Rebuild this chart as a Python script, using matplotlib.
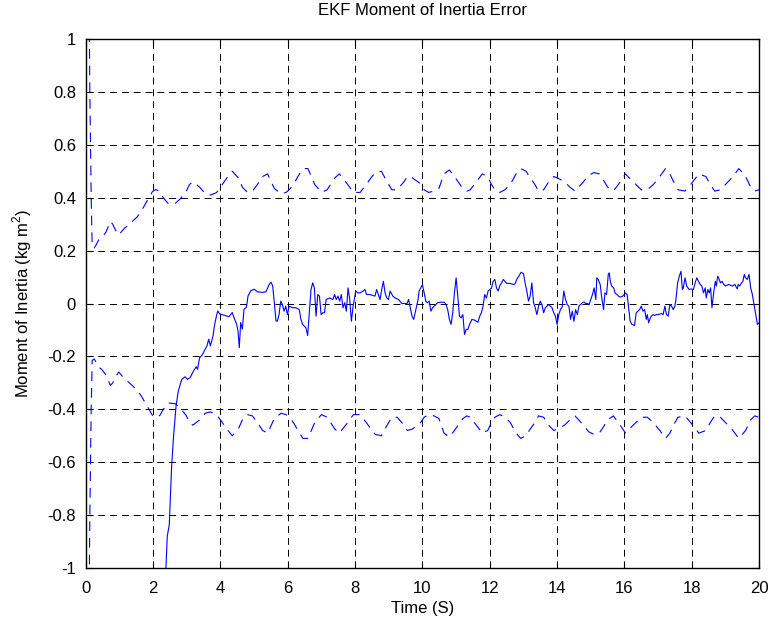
import numpy as np
import matplotlib
matplotlib.use("Agg")
import matplotlib.pyplot as plt
from matplotlib.ticker import FuncFormatter

plt.rcParams['font.family'] = ['Liberation Sans', 'DejaVu Sans']
plt.rcParams['mathtext.fontset'] = 'custom'
plt.rcParams['mathtext.rm'] = 'Liberation Sans'
plt.rcParams['axes.unicode_minus'] = False
plt.rcParams['lines.scale_dashes'] = False

# covariance bound (plotted as +/-)
bound_t = [0.0, 0.08, 0.12, 0.16, 0.19, 0.25, 0.3, 0.38, 0.48, 0.6, 0.73, 0.8, 0.88, 0.98,
           1.06, 1.15, 1.25, 1.38, 1.53, 1.65, 1.78, 1.98, 2.08, 2.2, 2.3, 2.46, 2.66, 2.8,
           2.98, 3.08, 3.18, 3.38, 3.55, 3.7, 3.88, 4.0, 4.18, 4.35, 4.53, 4.65, 4.8, 4.95,
           5.1, 5.25, 5.4, 5.6, 5.8, 5.95, 6.08, 6.19, 6.3, 6.45, 6.6, 6.8, 7.0, 7.17, 7.27,
           7.4, 7.53, 7.75, 7.95, 8.15, 8.36, 8.47, 8.6, 8.78, 8.95, 9.09, 9.25, 9.45, 9.55,
           9.7, 9.92, 10.05, 10.18, 10.35, 10.49, 10.64, 10.8, 10.95, 11.06, 11.2, 11.32,
           11.42, 11.6, 11.78, 11.94, 12.05, 12.15, 12.3, 12.45, 12.61, 12.78, 12.92, 13.08,
           13.2, 13.34, 13.45, 13.6, 13.75, 13.9, 14.01, 14.22, 14.38, 14.53, 14.75, 14.94,
           15.1, 15.25, 15.36, 15.5, 15.67, 15.85, 16.03, 16.18, 16.34, 16.5, 16.68, 16.86,
           17.05, 17.22, 17.35, 17.48, 17.59, 17.8, 18.0, 18.21, 18.42, 18.55, 18.68, 18.85,
           19.0, 19.19, 19.4, 19.6, 19.75, 19.87, 20.0]
bound_v = [4.0, 1.4, 0.8, 0.4, 0.215, 0.21, 0.22, 0.24, 0.25, 0.27, 0.31, 0.30, 0.278, 0.259,
           0.271, 0.285, 0.295, 0.31, 0.328, 0.35, 0.379, 0.423, 0.431, 0.423, 0.40, 0.376,
           0.379, 0.395, 0.423, 0.45, 0.46, 0.44, 0.415, 0.41, 0.419, 0.44, 0.473, 0.50, 0.475,
           0.44, 0.42, 0.425, 0.45, 0.48, 0.49, 0.435, 0.415, 0.42, 0.435, 0.455, 0.48, 0.51,
           0.51, 0.45, 0.42, 0.43, 0.45, 0.475, 0.49, 0.455, 0.42, 0.42, 0.455, 0.475, 0.495,
           0.50, 0.46, 0.43, 0.43, 0.46, 0.48, 0.475, 0.455, 0.43, 0.42, 0.425, 0.435, 0.49,
           0.505, 0.48, 0.46, 0.435, 0.425, 0.43, 0.46, 0.49, 0.48, 0.45, 0.43, 0.42, 0.43,
           0.45, 0.49, 0.51, 0.50, 0.475, 0.45, 0.425, 0.43, 0.46, 0.48, 0.475, 0.46, 0.44,
           0.425, 0.455, 0.485, 0.495, 0.49, 0.47, 0.44, 0.425, 0.455, 0.49, 0.47, 0.45, 0.43,
           0.43, 0.45, 0.48, 0.51, 0.49, 0.455, 0.43, 0.425, 0.455, 0.49, 0.48, 0.45, 0.425,
           0.43, 0.45, 0.475, 0.51, 0.48, 0.44, 0.425, 0.43]

# estimation error
err_t = [0.0, 2.3, 2.38, 2.42, 2.48, 2.55, 2.6, 2.68, 2.75, 2.85, 2.95, 3.02, 3.1, 3.2, 3.28,
         3.32, 3.38, 3.45, 3.52, 3.6, 3.65, 3.7, 3.78, 3.82, 3.88, 3.92, 3.98, 4.1, 4.25, 4.35,
         4.4, 4.48, 4.52, 4.56, 4.6, 4.65, 4.7, 4.77, 4.82, 4.9, 5.0, 5.1, 5.25, 5.35, 5.45,
         5.5, 5.55, 5.6, 5.65,
         5.69, 5.74, 5.79, 5.84, 5.89, 5.94, 5.99, 6.04, 6.14, 6.24, 6.34, 6.39, 6.44, 6.54,
         6.59, 6.64, 6.69, 6.74, 6.79, 6.84, 6.89, 6.94, 6.99, 7.04, 7.09, 7.14, 7.24, 7.34,
         7.39, 7.44, 7.49, 7.54, 7.59, 7.64, 7.69, 7.74, 7.79, 7.84, 7.89, 7.94, 8.02, 8.09,
         8.14, 8.24, 8.29, 8.34, 8.44, 8.54, 8.59, 8.64, 8.69, 8.74, 8.79, 8.84, 8.89, 8.94,
         8.99, 9.04, 9.12, 9.19, 9.29, 9.39, 9.49, 9.54, 9.59, 9.64, 9.69, 9.74,
         9.87, 9.90, 9.95, 10.0, 10.05, 10.10, 10.15, 10.20, 10.25, 10.30, 10.35, 10.45,
         10.55, 10.65, 10.70, 10.75, 10.80, 10.85, 10.90, 10.95, 11.00, 11.05, 11.10, 11.15,
         11.20, 11.25, 11.30, 11.35, 11.40, 11.47, 11.55, 11.65, 11.70, 11.75, 11.80, 11.85,
         11.90, 11.95, 12.00, 12.05, 12.10, 12.15, 12.20, 12.25, 12.30, 12.35, 12.40, 12.45,
         12.50, 12.60, 12.70, 12.75, 12.80, 12.85, 12.93, 13.00, 13.05, 13.10, 13.15, 13.20,
         13.25, 13.30, 13.35, 13.40, 13.45, 13.50, 13.55, 13.60, 13.65, 13.70, 13.75, 13.80,
         13.85, 13.90, 13.95, 14.00, 14.05, 14.10, 14.15, 14.20, 14.25, 14.30, 14.35, 14.40,
         14.45, 14.50, 14.55, 14.60, 14.65, 14.75, 14.80, 14.85, 14.90, 14.95,
         15.05, 15.10, 15.15, 15.18, 15.22, 15.28, 15.32, 15.38, 15.42, 15.47, 15.52, 15.55,
         15.58, 15.62, 15.68, 15.72, 15.78, 15.85, 15.90, 15.95, 16.00, 16.03, 16.08, 16.12,
         16.17, 16.22, 16.30, 16.35, 16.40, 16.45, 16.50, 16.55, 16.60, 16.65, 16.68, 16.72,
         16.75, 16.80, 16.85, 16.90, 16.95, 17.00, 17.10, 17.15, 17.20, 17.25, 17.30, 17.35,
         17.40, 17.45, 17.50, 17.53, 17.58, 17.63, 17.68, 17.72, 17.75, 17.80, 17.85, 17.92,
         17.98, 18.05, 18.10, 18.15, 18.20, 18.25, 18.30, 18.35, 18.40, 18.43, 18.48, 18.52,
         18.56, 18.60, 18.65, 18.70, 18.73, 18.77, 18.80, 18.85, 18.90, 18.95, 19.00, 19.10,
         19.20, 19.28, 19.35, 19.38, 19.42, 19.48, 19.52, 19.56, 19.60, 19.65, 19.70, 19.75,
         19.80, 19.85, 19.90, 19.95, 20.00]
err_v = [-2.5, -1.3, -1.0, -0.88, -0.836, -0.615, -0.514, -0.388, -0.33, -0.287, -0.277,
         -0.287, -0.28, -0.255, -0.239, -0.249, -0.205, -0.196, -0.179, -0.16, -0.135, -0.16,
         -0.122, -0.085, -0.047, -0.028, -0.04, -0.044, -0.05, -0.034, -0.053, -0.078, -0.104,
         -0.167, -0.072, -0.097, -0.021, -0.015, 0.029, 0.048, 0.054, 0.044, 0.042, 0.044,
         0.073, 0.08, 0.067, 0.004, -0.066,
         -0.067, -0.042, 0.009, -0.004, -0.029, -0.010, -0.042, -0.010, -0.016, -0.016,
         -0.023, -0.060, -0.079, -0.092, -0.121, -0.035, 0.053, 0.078, 0.059, -0.048, 0.034,
         0.028, -0.042, -0.035, -0.035, 0.015, 0.021, 0.015, 0.034, 0.015, 0.028, 0.009,
         0.034, -0.016, 0.003, -0.029, 0.059, 0.015, -0.067, -0.010, 0.047, 0.040, 0.040,
         0.047, 0.053, 0.034, 0.034, 0.030, 0.028, 0.053, 0.034, 0.015, 0.053, 0.084, 0.040,
         0.021, 0.015, 0.047, 0.028, 0.021, 0.015, 0.0, 0.0, 0.0, 0.015, -0.016, -0.048,
         -0.060,
         0.015, 0.047, 0.059, 0.072, 0.040, 0.009, 0.003, 0.009, -0.029, -0.016, -0.010,
         0.003, 0.005, 0.005, -0.004, -0.023, -0.060, -0.079, -0.035, 0.040, 0.097, 0.028,
         -0.048, -0.054, -0.042, -0.117, -0.098, -0.098, -0.079, -0.060, -0.063, -0.071,
         -0.048, -0.035, -0.010, 0.034, 0.021, 0.047, 0.053, 0.057, 0.084, 0.091, 0.059,
         0.047, 0.068, 0.078, 0.091, 0.084, 0.076, 0.076, 0.072, 0.074, 0.091, 0.101, 0.118,
         0.113, 0.078, 0.047, 0.009, 0.028, 0.078, 0.003, -0.016, -0.042, -0.010, 0.009,
         -0.004, -0.035, -0.016, -0.010, -0.004, -0.010, -0.016, -0.035, -0.048, -0.079,
         -0.042, -0.023, -0.013, 0.047, 0.015, -0.004, -0.010, -0.060, -0.029, -0.067,
         -0.023, -0.042, -0.010, 0.003, 0.006, 0.0, 0.0, -0.004,
         0.034, 0.059, 0.015, 0.097, 0.091, 0.072, 0.028, -0.023, 0.040, 0.034, 0.110,
         0.116, 0.084, 0.066, 0.059, 0.040, 0.034, 0.025, 0.025, 0.028, 0.034, 0.040, 0.034,
         -0.010, -0.067, -0.079, -0.083, -0.035, -0.029, -0.023, -0.010, -0.029, -0.023,
         -0.060, -0.042, -0.073, -0.060, -0.048, -0.042, -0.045, -0.042, -0.042, -0.038,
         -0.042, -0.010, -0.042, -0.048, -0.004, -0.010, -0.023, -0.010, 0.015, 0.078, 0.103,
         0.122, 0.053, 0.059, 0.097, 0.066, 0.053, 0.055, 0.053, 0.078, 0.097, 0.084, 0.072,
         0.066, 0.040, 0.059, 0.021, 0.053, 0.040, 0.059, -0.016, 0.040, 0.084, 0.066, 0.103,
         0.097, 0.078, 0.084, 0.072, 0.066, 0.072, 0.066, 0.072, 0.055, 0.072, 0.066, 0.078,
         0.084, 0.110, 0.097, 0.091, 0.110, 0.059, 0.034, -0.004, -0.042, -0.079, -0.073]

bound_t = np.array(bound_t)
bound_v = np.array(bound_v)

fig = plt.figure(figsize=(7.73, 6.3), dpi=100)
ax = fig.add_axes([0.111, 0.0984, 0.871, 0.8397])

blue = (0, 0, 1)
ax.plot(err_t, err_v, color=blue, lw=0.8)
ax.plot(bound_t, bound_v, color=blue, lw=0.8, linestyle=(0, (7, 5)))
ax.plot(bound_t, -bound_v, color=blue, lw=0.8, linestyle=(0, (7, 5)))

ax.set_xlim(0, 20)
ax.set_ylim(-1, 1)
ax.set_xticks(np.arange(0, 21, 2))
ax.set_yticks(np.linspace(-1, 1, 11))
ax.yaxis.set_major_formatter(FuncFormatter(lambda v, p: '%g' % round(v, 1)))
ax.tick_params(direction='in', length=5, width=0.8, top=True, right=True,
               labelsize=12, pad=7)
ax.tick_params(axis='x', pad=9)
ax.grid(True, color='black', linestyle=(0, (5, 3.5)), linewidth=0.7)
for s in ax.spines.values():
    s.set_linewidth(1.0)

ax.set_title('EKF Moment of Inertia Error', fontsize=12, pad=17)
ax.set_xlabel('Time (S)', fontsize=12, labelpad=4)
ax.set_ylabel('Moment of Inertia (kg m$^2$)', fontsize=12, labelpad=10)

fig.savefig('out.png', dpi=100)
